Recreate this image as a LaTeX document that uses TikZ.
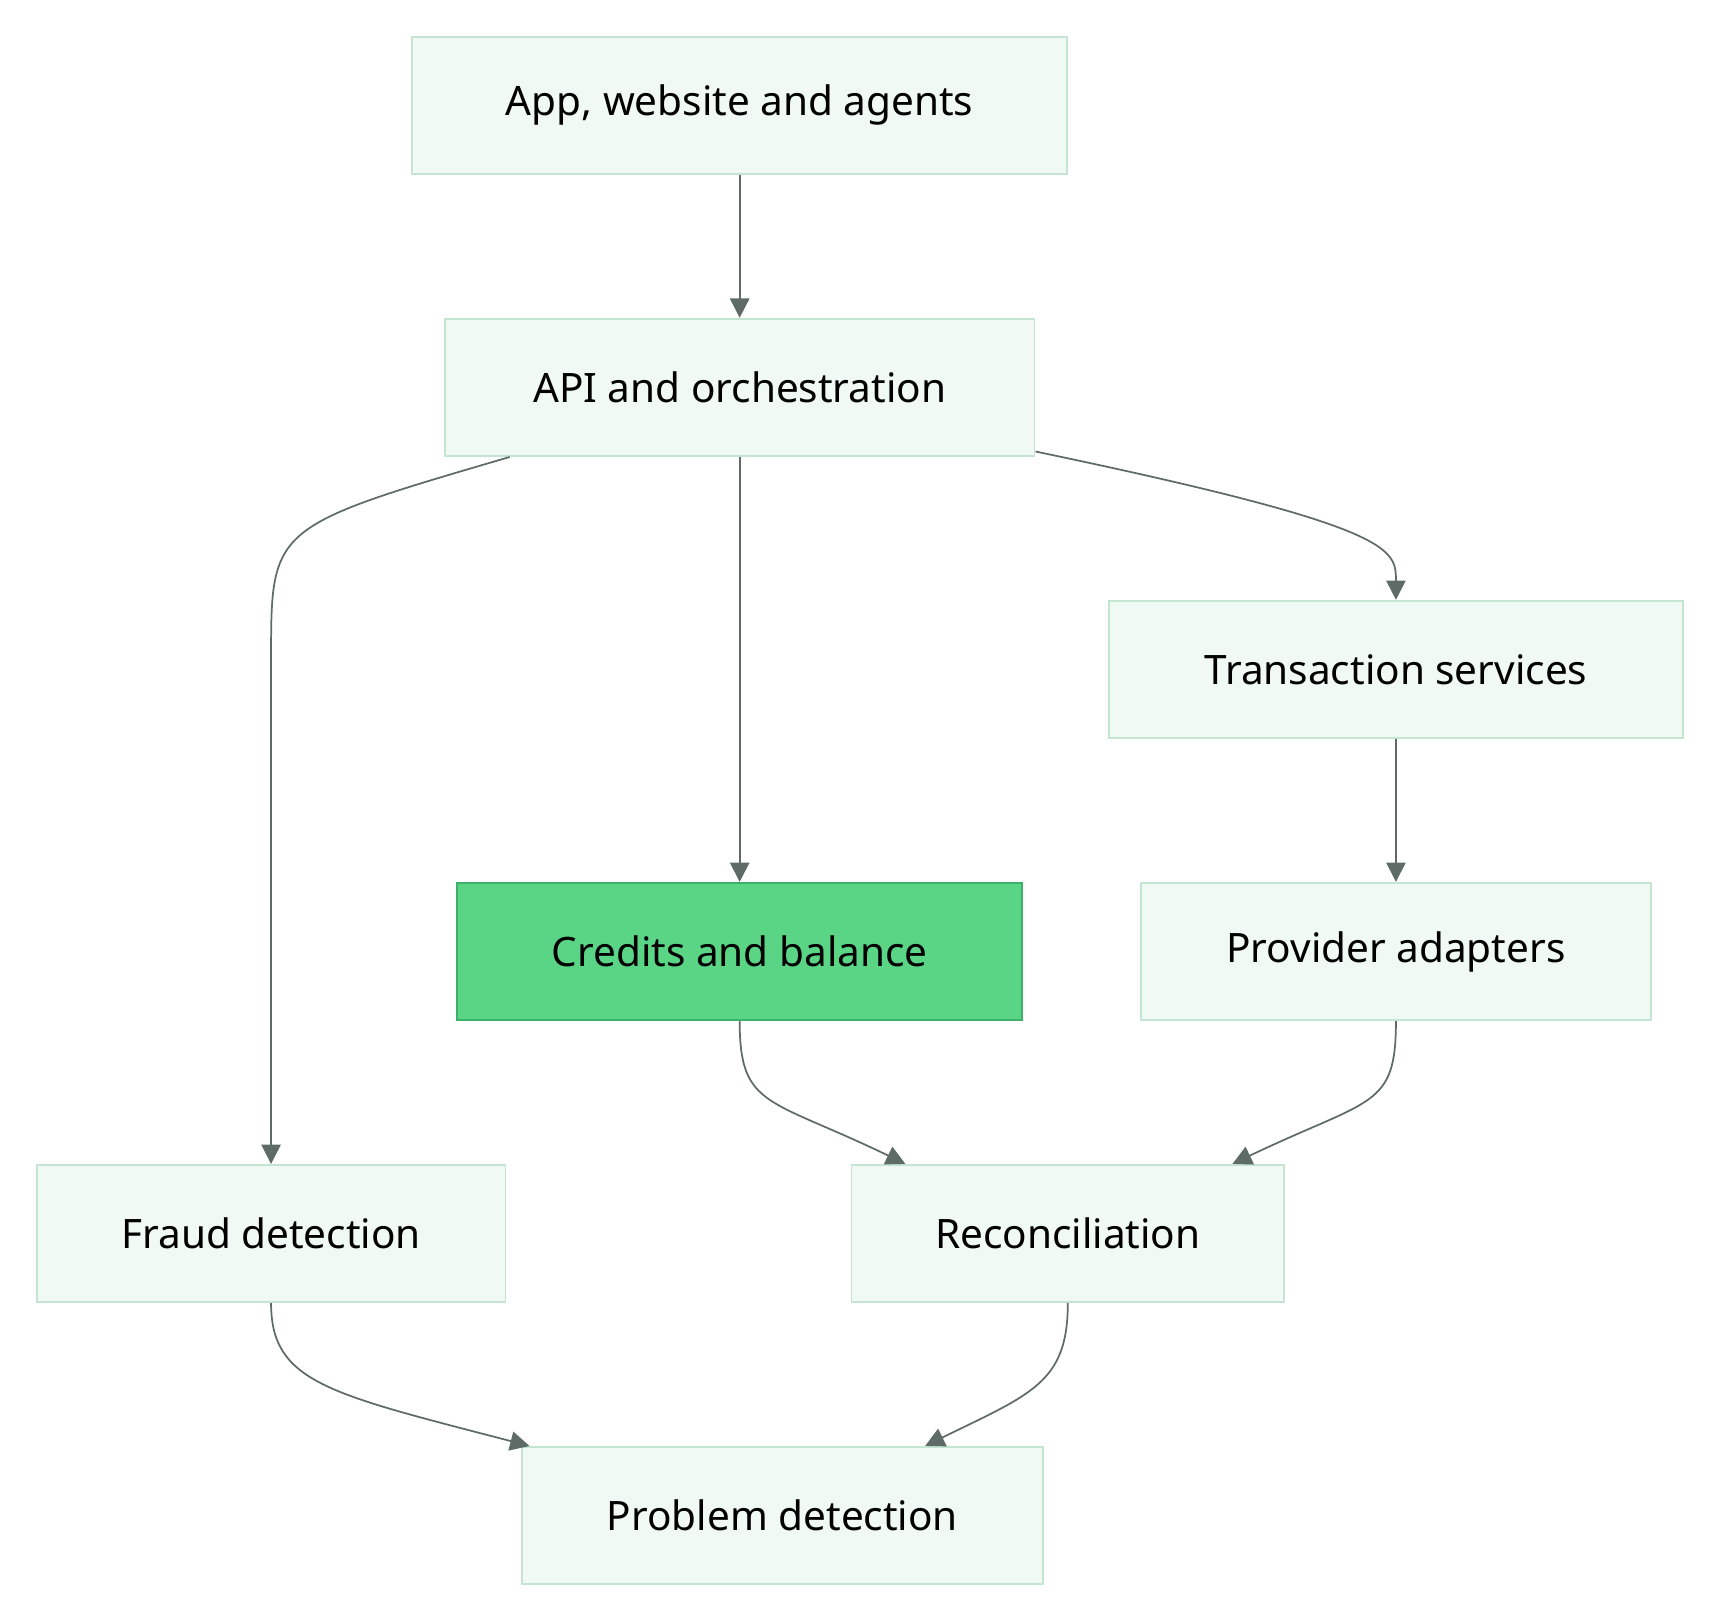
\documentclass[tikz,border=0pt]{standalone}
\usepackage{fontspec}
\setmainfont{Noto Sans}
\usetikzlibrary{arrows.meta,calc}
\definecolor{boxfill}{HTML}{F0F9F4}
\definecolor{boxline}{HTML}{C5E5D3}
\definecolor{keyfill}{HTML}{5AD586}
\definecolor{keyline}{HTML}{3DB06A}
\definecolor{wire}{HTML}{5F6B66}
\tikzset{
  block/.style={draw=boxline,fill=boxfill,line width=0.5pt,minimum height=1.25cm,
    font=\fontsize{10.5}{12}\selectfont,inner sep=0pt},
  keyblock/.style={block,draw=keyline,fill=keyfill,font=\fontsize{10.5}{12}\selectfont\bfseries},
  link/.style={draw=wire,line width=0.45pt,-{Triangle[length=5pt,width=5pt]}}
}
\begin{document}
\begin{tikzpicture}[x=0.01cm,y=-0.01cm]
        \useasboundingbox (0,0) rectangle (1560,1470);
        %% boxes
        \node[block,minimum width=5.96cm] (app) at (674,96) {App, website and agents};
        \node[block,minimum width=5.37cm] (api) at (674,353) {API and orchestration};
        \node[block,minimum width=5.23cm] (trans) at (1272,610) {Transaction services};
        \node[keyblock,minimum width=5.15cm] (credits) at (674,867) {Credits and balance};
        \node[block,minimum width=4.65cm] (prov) at (1272,867) {Provider adapters};
        \node[block,minimum width=4.27cm] (fraud) at (247,1124) {Fraud detection};
        \node[block,minimum width=3.94cm] (recon) at (973,1124) {Reconciliation};
        \node[block,minimum width=4.75cm] (prob) at (713,1381) {Problem detection};
        %% links
        \draw[link] (app) -- (api);
        \draw[link] (api) -- (credits);
        \draw[link] (trans) -- (prov);
        \draw[link] ($(api.south west)+(60,0)$) .. controls (247,480) and (247,480) .. (247,600) -- (fraud.north);
        \draw[link] ($(api.south east)+(0,-5)$) .. controls (1272,480) and (1272,500) .. (trans.north);
        \draw[link] (credits.south) .. controls (674,1010) and (700,1000) .. ($(recon.north west)+(50,0)$);
        \draw[link] (prov.south) .. controls (1272,1010) and (1250,1000) .. ($(recon.north east)+(-48,0)$);
        \draw[link] (fraud.south) .. controls (247,1260) and (300,1270) .. ($(prob.north west)+(8,0)$);
        \draw[link] (recon.south) .. controls (973,1260) and (940,1270) .. ($(prob.north)+(130,0)$);
\end{tikzpicture}
\end{document}
